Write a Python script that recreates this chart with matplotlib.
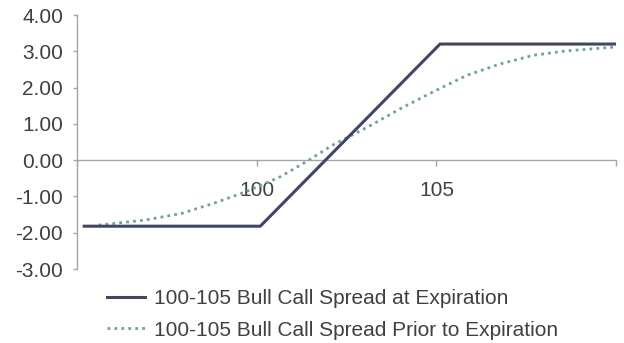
import matplotlib
matplotlib.use("Agg")
import matplotlib.pyplot as plt

plt.rcParams['font.family'] = ['Liberation Sans', 'DejaVu Sans']

# payoff at expiration (long 100 call, short 105 call)
expiry_x = [95.2, 100.1, 105.1, 110.0]
expiry_y = [-1.82, -1.82, 3.2, 3.2]

# value of the spread before expiration
prior_x = [95.6, 96.9, 97.9, 98.8, 99.7, 100.65, 101.4, 102.1, 103.1, 104.0,
           104.9, 105.85, 106.8, 107.7, 108.6, 110.0]
prior_y = [-1.79, -1.65, -1.47, -1.19, -0.87, -0.46, -0.03, 0.41, 0.92, 1.42,
           1.88, 2.34, 2.66, 2.89, 3.01, 3.12]

x_ticks = [95, 100, 105, 110]
x_labels = ['', '100', '105', '']
y_ticks = [-3, -2, -1, 0, 1, 2, 3, 4]

label_expiry = '100-105 Bull Call Spread at Expiration'
label_prior = '100-105 Bull Call Spread Prior to Expiration'

text_color = '#404040'
axis_color = '#a6a6a6'
fsize = 15

fig = plt.figure(figsize=(6.24, 3.43), dpi=100)
ax = fig.add_axes([0.1234, 0.2157, 0.864, 0.7405])

ax.plot(expiry_x, expiry_y, color='#414761', lw=2.2, solid_joinstyle='miter',
        label=label_expiry, zorder=3)
ax.plot(prior_x, prior_y, color='#72a09e', lw=2.0, linestyle=(0, (1, 1.5)),
        dash_capstyle='butt', label=label_prior, zorder=2)

ax.set_xlim(95, 110)
ax.set_ylim(-3, 4)

ax.spines['top'].set_visible(False)
ax.spines['right'].set_visible(False)
ax.spines['bottom'].set_position(('data', 0))
for s in ('left', 'bottom'):
    ax.spines[s].set_color(axis_color)
    ax.spines[s].set_linewidth(1.0)

ax.set_yticks(y_ticks)
ax.set_yticklabels(['%.2f' % v for v in y_ticks])
ax.set_xticks(x_ticks)
ax.set_xticklabels(x_labels)

ax.tick_params(axis='y', length=3, width=1, color=axis_color, pad=7,
               labelsize=fsize, labelcolor=text_color)
ax.tick_params(axis='x', length=4, width=1, color=axis_color, pad=11,
               labelsize=fsize, labelcolor=text_color)

leg = fig.legend(loc='upper left', bbox_to_anchor=(0.172, 0.158),
                 frameon=False, fontsize=fsize, handlelength=1.8,
                 handletextpad=0.45, labelspacing=0.62, borderpad=0,
                 borderaxespad=0)
for t in leg.get_texts():
    t.set_color(text_color)

fig.savefig('out.png', dpi=100)
